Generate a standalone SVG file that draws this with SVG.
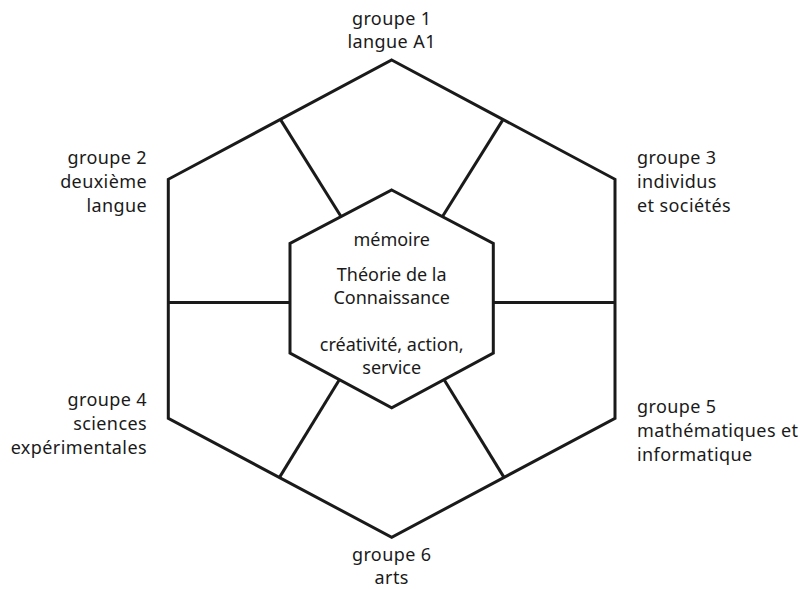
<svg xmlns="http://www.w3.org/2000/svg" width="809" height="589" viewBox="0 0 809 589">
<style>
.s{fill:none;stroke:#1a1a1a;stroke-width:3;stroke-linejoin:miter}
.t{font-family:"Noto Sans","Open Sans",sans-serif;font-size:18px;fill:#1a1a1a;letter-spacing:0.4px}
.c{font-family:"Noto Sans","Open Sans",sans-serif;font-size:18px;fill:#1a1a1a;text-anchor:middle}
.m{text-anchor:middle}
.e{text-anchor:end}
</style>
<rect width="809" height="589" fill="#fff"/>
<g id="outer"><polygon class="s" points="391.7,60 615,179.3 615,418.3 391.7,537.3 168.3,418.3 168.3,179.3"/></g>
<g id="inner"><polygon class="s" points="391.7,190 493.3,243.5 493.3,353 391.7,407.7 290,353 290,243.5"/>
<text class="c" x="391.7" y="246">mémoire</text>
<text class="c" x="391.7" y="281">Théorie de la</text>
<text class="c" x="391.7" y="304">Connaissance</text>
<text class="c" x="391.7" y="351">créativité, action,</text>
<text class="c" x="391.7" y="374">service</text>
</g>
<g id="connectors">
<line class="s" x1="280.5" y1="119.6" x2="341" y2="216.5"/>
<line class="s" x1="503" y1="119.6" x2="442.5" y2="216.5"/>
<line class="s" x1="168.3" y1="302.5" x2="290" y2="302.5"/>
<line class="s" x1="493.3" y1="302.5" x2="615" y2="302.5"/>
<line class="s" x1="279.5" y1="477.4" x2="339.5" y2="379.5"/>
<line class="s" x1="504" y1="477.4" x2="444" y2="379.5"/>
</g>
<g id="g1"><text class="t m" x="391.7" y="25">groupe 1</text><text class="t m" x="391.7" y="48">langue A1</text></g>
<g id="g2"><text class="t e" x="147" y="164">groupe 2</text><text class="t e" x="147" y="188">deuxième</text><text class="t e" x="147" y="212">langue</text></g>
<g id="g3"><text class="t" x="637" y="164">groupe 3</text><text class="t" x="637" y="188">individus</text><text class="t" x="637" y="212">et sociétés</text></g>
<g id="g4"><text class="t e" x="147" y="406">groupe 4</text><text class="t e" x="147" y="430">sciences</text><text class="t e" x="147" y="454">expérimentales</text></g>
<g id="g5"><text class="t" x="637" y="413">groupe 5</text><text class="t" x="637" y="437">mathématiques et</text><text class="t" x="637" y="461">informatique</text></g>
<g id="g6"><text class="t m" x="391.7" y="561">groupe 6</text><text class="t m" x="391.7" y="584">arts</text></g>
</svg>
